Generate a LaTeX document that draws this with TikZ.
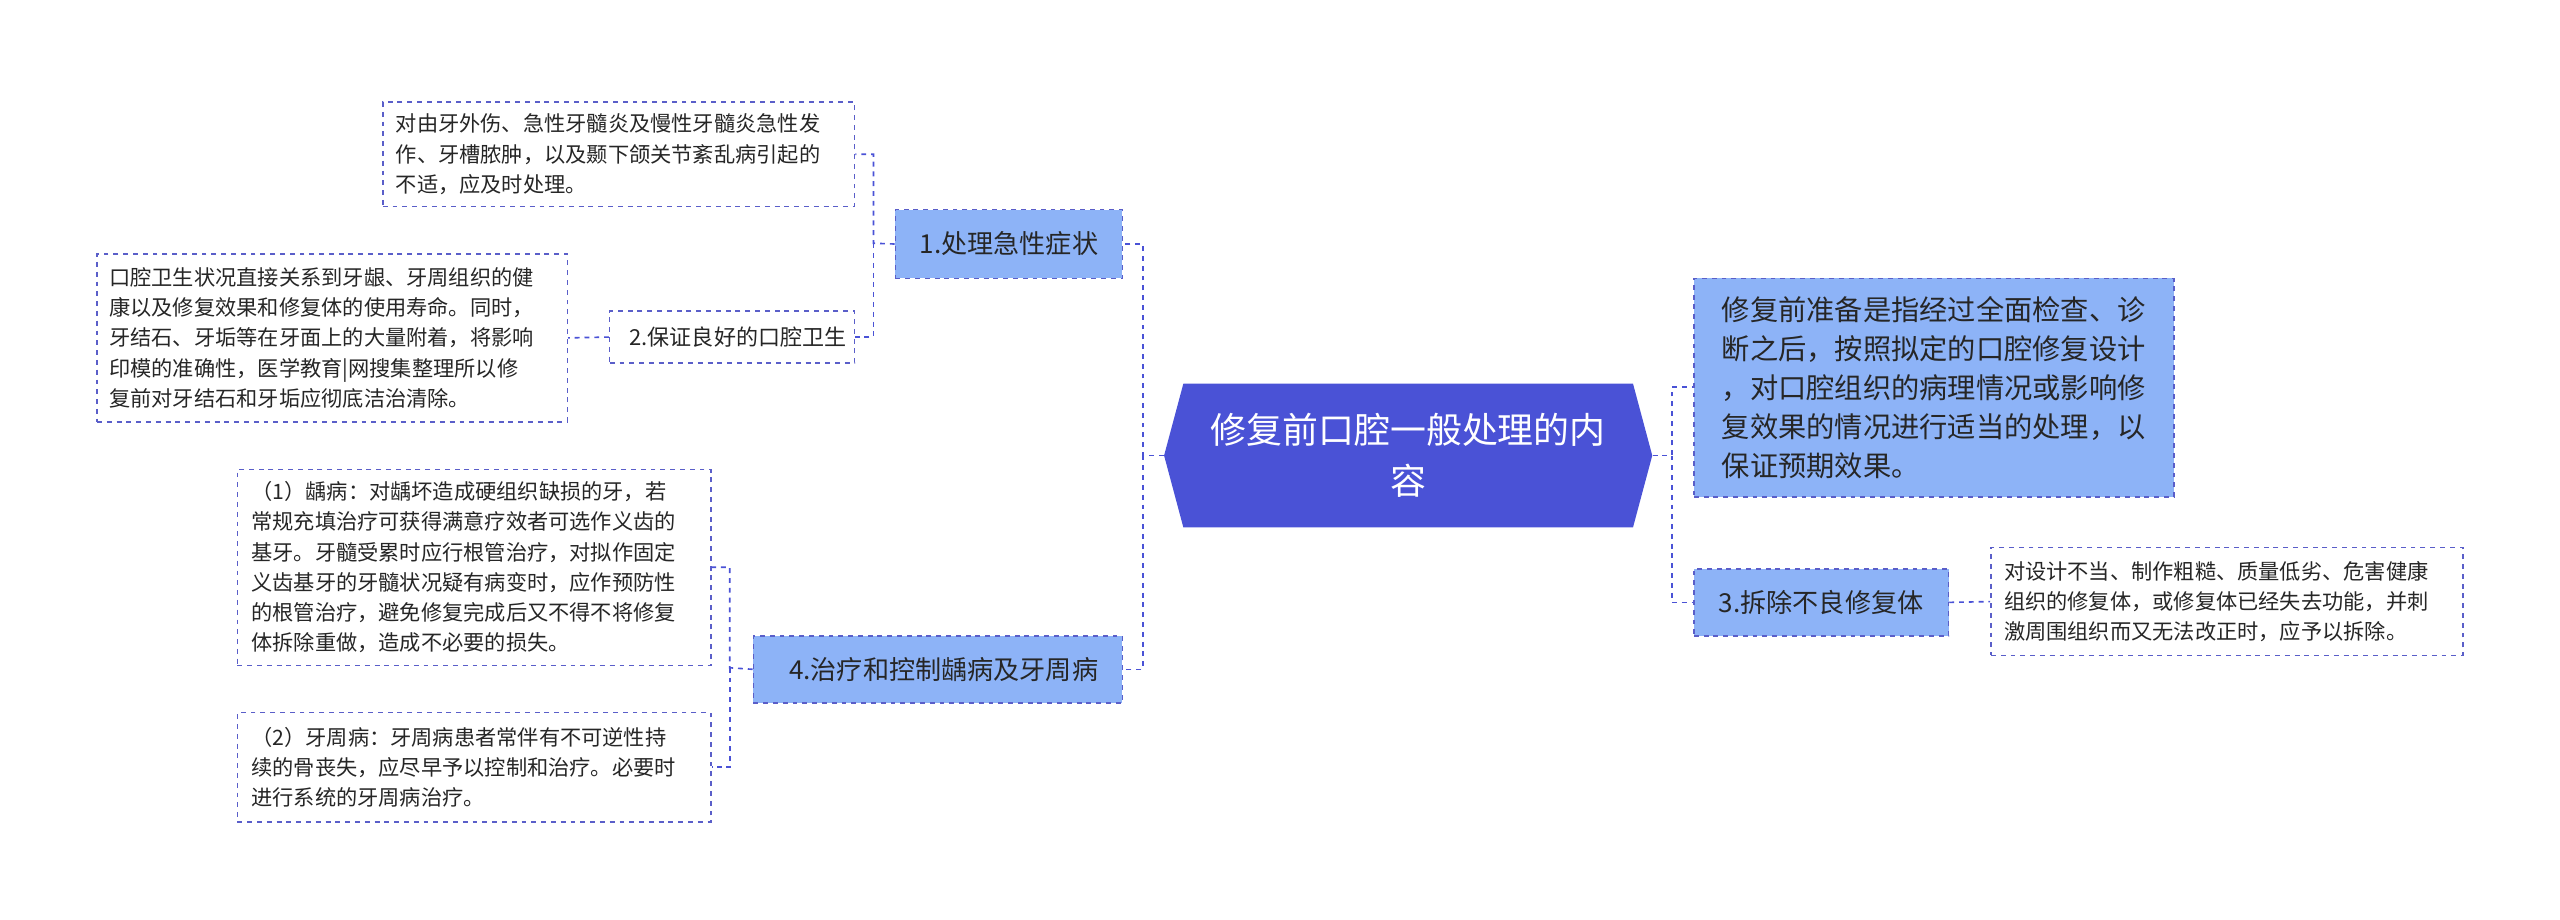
\documentclass[tikz,border=0pt]{standalone}
\usepackage{fontspec}
\setmainfont{Noto Sans CJK SC}
\usetikzlibrary{shapes.geometric,shapes.symbols}
\definecolor{cen}{HTML}{4A52D6}
\definecolor{lv}{HTML}{8DB3F7}
\definecolor{bd}{HTML}{5A5EC9}
\definecolor{ln}{HTML}{4A52D6}
\begin{document}
\begin{tikzpicture}[x=1pt,y=-1pt,
 leaf/.style={draw=bd,dashed,line width=0.9pt,fill=white,align=left,anchor=north west,inner sep=0pt,font=\fontsize{13}{18.5}\selectfont,text=black!85},
 lvl/.style={draw=bd,dashed,line width=0.9pt,fill=lv,anchor=north west,inner sep=0pt,font=\fontsize{16}{20}\selectfont,text=black!85},
 conn/.style={draw=ln,dashed,line width=1pt}]
\useasboundingbox (0,0) rectangle (1568,563);
% center
\node[shape=signal,signal to=west and east,signal pointer angle=150,fill=cen,text=white,align=center,minimum width=299pt,minimum height=88pt,inner sep=0pt,font=\fontsize{22}{31}\selectfont] (c) at (862.5,279) {修复前口腔一般处理的内\\容};
% right
\node[lvl,minimum width=294pt,minimum height=134pt,align=left,font=\fontsize{17.3}{24}\selectfont] (r1) at (1037,170) {修复前准备是指经过全面检查、诊\\断之后，按照拟定的口腔修复设计\\，对口腔组织的病理情况或影响修\\复效果的情况进行适当的处理，以\\保证预期效果。};
\node[lvl,minimum width=156pt,minimum height=41pt] (r3) at (1037,348) {3.拆除不良修复体};
\node[leaf,minimum width=289pt,minimum height=66pt] (e) at (1219,335) {\hspace*{7pt}\parbox{280pt}{对设计不当、制作粗糙、质量低劣、危害健康\\组织的修复体，或修复体已经失去功能，并刺\\激周围组织而又无法改正时，应予以拆除。}};
% left
\node[lvl,minimum width=139pt,minimum height=42pt] (l1) at (548,128) {1.处理急性症状};
\node[leaf,minimum width=289pt,minimum height=64pt] (a) at (234,62) {\hspace*{7pt}\parbox{280pt}{对由牙外伤、急性牙髓炎及慢性牙髓炎急性发\\作、牙槽脓肿，以及颞下颌关节紊乱病引起的\\不适，应及时处理。}};
\node[leaf,minimum width=150pt,minimum height=32pt,font=\fontsize{13.5}{18}\selectfont] (l2) at (373,190) {\hspace*{7pt}2.保证良好的口腔卫生};
\node[leaf,minimum width=288pt,minimum height=103pt] (b) at (59,155) {\hspace*{7pt}\parbox{280pt}{口腔卫生状况直接关系到牙龈、牙周组织的健\\康以及修复效果和修复体的使用寿命。同时，\\牙结石、牙垢等在牙面上的大量附着，将影响\\印模的准确性，医学教育|网搜集整理所以修\\复前对牙结石和牙垢应彻底洁治清除。}};
\node[lvl,minimum width=226pt,minimum height=41pt] (l4) at (461,389) {\hspace*{7pt}4.治疗和控制龋病及牙周病};
\node[leaf,minimum width=290pt,minimum height=120pt] (cc) at (145,287) {\hspace*{7pt}\parbox{280pt}{（1）龋病：对龋坏造成硬组织缺损的牙，若\\常规充填治疗可获得满意疗效者可选作义齿的\\基牙。牙髓受累时应行根管治疗，对拟作固定\\义齿基牙的牙髓状况疑有病变时，应作预防性\\的根管治疗，避免修复完成后又不得不将修复\\体拆除重做，造成不必要的损失。}};
\node[leaf,minimum width=290pt,minimum height=67pt] (d) at (145,436) {\hspace*{7pt}\parbox{280pt}{（2）牙周病：牙周病患者常伴有不可逆性持\\续的骨丧失，应尽早予以控制和治疗。必要时\\进行系统的牙周病治疗。}};
% connectors
\draw[conn] (c.west) -- (700,279) |- (l1.east);
\draw[conn] (700,279) |- (l4.east);
\draw[conn] (c.east) -- (1024,279) |- (r1.west |- 237,237);
\draw[conn] (1024,279) |- (r3.west);
\draw[conn] (r3.east) -- (e.west);
\draw[conn] (l1.west) -- (535,149) |- (a.east);
\draw[conn] (535,149) |- (l2.east);
\draw[conn] (l2.west) -- (b.east);
\draw[conn] (l4.west) -- (447,409) |- (cc.east);
\draw[conn] (447,409) |- (d.east);
\end{tikzpicture}
\end{document}
